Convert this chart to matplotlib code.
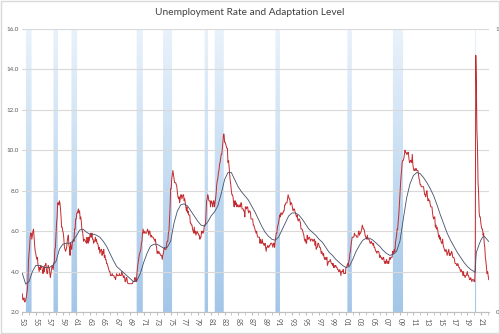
import numpy as np
import matplotlib
matplotlib.use("Agg")
import matplotlib.pyplot as plt
from matplotlib.colors import LinearSegmentedColormap
from matplotlib.patches import Rectangle

# monthly unemployment rate, Jan 1953 .. Mar 2022
unemployment = [
    2.9, 2.6, 2.6, 2.7, 2.5, 2.5, 2.6, 2.7, 2.9, 3.1, 3.5, 4.5,   # 1953
    4.9, 5.2, 5.7, 5.9, 5.9, 5.6, 5.8, 6.0, 6.1, 5.7, 5.3, 5.0,   # 1954
    4.9, 4.7, 4.6, 4.7, 4.3, 4.2, 4.0, 4.2, 4.1, 4.3, 4.2, 4.2,   # 1955
    4.0, 3.9, 4.2, 4.0, 4.3, 4.3, 4.4, 4.1, 3.9, 3.9, 4.3, 4.2,   # 1956
    4.2, 3.9, 3.7, 3.9, 4.1, 4.3, 4.2, 4.1, 4.4, 4.5, 5.1, 5.2,   # 1957
    5.8, 6.4, 6.7, 7.4, 7.4, 7.3, 7.5, 7.4, 7.1, 6.7, 6.2, 6.2,   # 1958
    6.0, 5.9, 5.6, 5.2, 5.1, 5.0, 5.1, 5.2, 5.5, 5.7, 5.8, 5.3,   # 1959
    5.2, 4.8, 5.4, 5.2, 5.1, 5.4, 5.5, 5.6, 5.5, 6.1, 6.1, 6.6,   # 1960
    6.6, 6.9, 6.9, 7.0, 7.1, 6.9, 7.0, 6.6, 6.7, 6.5, 6.1, 6.0,   # 1961
    5.8, 5.5, 5.6, 5.6, 5.5, 5.5, 5.4, 5.7, 5.6, 5.4, 5.7, 5.5,   # 1962
    5.7, 5.9, 5.7, 5.7, 5.9, 5.6, 5.6, 5.4, 5.5, 5.5, 5.7, 5.5,   # 1963
    5.6, 5.4, 5.4, 5.3, 5.1, 5.2, 4.9, 5.0, 5.1, 5.1, 4.8, 5.0,   # 1964
    4.9, 5.1, 4.7, 4.8, 4.6, 4.6, 4.4, 4.4, 4.3, 4.2, 4.1, 4.0,   # 1965
    4.0, 3.8, 3.8, 3.8, 3.9, 3.8, 3.8, 3.8, 3.7, 3.7, 3.6, 3.8,   # 1966
    3.9, 3.8, 3.8, 3.8, 3.8, 3.9, 3.8, 3.8, 3.8, 4.0, 3.9, 3.8,   # 1967
    3.7, 3.8, 3.7, 3.5, 3.5, 3.7, 3.7, 3.5, 3.4, 3.4, 3.4, 3.4,   # 1968
    3.4, 3.4, 3.4, 3.4, 3.4, 3.5, 3.5, 3.5, 3.7, 3.7, 3.5, 3.5,   # 1969
    3.9, 4.2, 4.4, 4.6, 4.8, 4.9, 5.0, 5.1, 5.4, 5.5, 5.9, 6.1,   # 1970
    5.9, 5.9, 6.0, 5.9, 5.9, 5.9, 6.0, 6.1, 6.0, 5.8, 6.0, 6.0,   # 1971
    5.8, 5.7, 5.8, 5.7, 5.7, 5.7, 5.6, 5.6, 5.5, 5.6, 5.3, 5.2,   # 1972
    4.9, 5.0, 4.9, 5.0, 4.9, 4.9, 4.8, 4.8, 4.8, 4.6, 4.8, 4.9,   # 1973
    5.1, 5.2, 5.1, 5.1, 5.1, 5.4, 5.5, 5.5, 5.9, 6.0, 6.6, 7.2,   # 1974
    8.1, 8.1, 8.6, 8.8, 9.0, 8.8, 8.6, 8.4, 8.4, 8.4, 8.3, 8.2,   # 1975
    7.9, 7.7, 7.6, 7.7, 7.4, 7.6, 7.8, 7.8, 7.6, 7.7, 7.8, 7.8,   # 1976
    7.5, 7.6, 7.4, 7.2, 7.0, 7.2, 6.9, 7.0, 6.8, 6.8, 6.8, 6.4,   # 1977
    6.4, 6.3, 6.3, 6.1, 6.0, 5.9, 6.2, 5.9, 6.0, 5.8, 5.9, 6.0,   # 1978
    5.9, 5.9, 5.8, 5.8, 5.6, 5.7, 5.7, 6.0, 5.9, 6.0, 5.9, 6.0,   # 1979
    6.3, 6.3, 6.3, 6.9, 7.5, 7.6, 7.8, 7.7, 7.5, 7.5, 7.5, 7.2,   # 1980
    7.5, 7.4, 7.4, 7.2, 7.5, 7.5, 7.2, 7.4, 7.6, 7.9, 8.3, 8.5,   # 1981
    8.6, 8.9, 9.0, 9.3, 9.4, 9.6, 9.8, 9.8, 10.1, 10.4, 10.8, 10.8,  # 1982
    10.4, 10.4, 10.3, 10.2, 10.1, 10.1, 9.4, 9.5, 9.2, 8.8, 8.5, 8.3,  # 1983
    8.0, 7.8, 7.8, 7.7, 7.4, 7.2, 7.5, 7.5, 7.3, 7.4, 7.2, 7.3,   # 1984
    7.3, 7.2, 7.2, 7.3, 7.2, 7.4, 7.4, 7.1, 7.1, 7.1, 7.0, 7.0,   # 1985
    6.7, 7.2, 7.2, 7.1, 7.2, 7.2, 7.0, 6.9, 7.0, 7.0, 6.9, 6.6,   # 1986
    6.6, 6.6, 6.6, 6.3, 6.3, 6.2, 6.1, 6.0, 5.9, 6.0, 5.8, 5.7,   # 1987
    5.7, 5.7, 5.7, 5.4, 5.6, 5.4, 5.4, 5.6, 5.4, 5.4, 5.3, 5.3,   # 1988
    5.4, 5.2, 5.0, 5.2, 5.2, 5.3, 5.2, 5.2, 5.3, 5.3, 5.4, 5.4,   # 1989
    5.4, 5.3, 5.2, 5.4, 5.4, 5.2, 5.5, 5.7, 5.9, 5.9, 6.2, 6.3,   # 1990
    6.4, 6.6, 6.8, 6.7, 6.9, 6.9, 6.8, 6.9, 6.9, 7.0, 7.0, 7.3,   # 1991
    7.3, 7.4, 7.4, 7.4, 7.6, 7.8, 7.7, 7.6, 7.6, 7.3, 7.4, 7.4,   # 1992
    7.3, 7.1, 7.0, 7.1, 7.1, 7.0, 6.9, 6.8, 6.7, 6.8, 6.6, 6.5,   # 1993
    6.6, 6.6, 6.5, 6.4, 6.1, 6.1, 6.1, 6.0, 5.9, 5.8, 5.6, 5.5,   # 1994
    5.6, 5.4, 5.4, 5.8, 5.6, 5.6, 5.7, 5.7, 5.6, 5.5, 5.6, 5.6,   # 1995
    5.6, 5.5, 5.5, 5.6, 5.6, 5.3, 5.5, 5.1, 5.2, 5.2, 5.4, 5.4,   # 1996
    5.3, 5.2, 5.2, 5.1, 4.9, 5.0, 4.9, 4.8, 4.9, 4.7, 4.6, 4.7,   # 1997
    4.6, 4.6, 4.7, 4.3, 4.4, 4.5, 4.5, 4.5, 4.6, 4.5, 4.4, 4.4,   # 1998
    4.3, 4.4, 4.2, 4.3, 4.2, 4.3, 4.3, 4.2, 4.2, 4.1, 4.1, 4.0,   # 1999
    4.0, 4.1, 4.0, 3.8, 4.0, 4.0, 4.0, 4.1, 3.9, 3.9, 3.9, 3.9,   # 2000
    4.2, 4.2, 4.3, 4.4, 4.3, 4.5, 4.6, 4.9, 5.0, 5.3, 5.5, 5.7,   # 2001
    5.7, 5.7, 5.7, 5.9, 5.8, 5.8, 5.8, 5.7, 5.7, 5.7, 5.9, 6.0,   # 2002
    5.8, 5.9, 5.9, 6.0, 6.1, 6.3, 6.2, 6.1, 6.1, 6.0, 5.8, 5.7,   # 2003
    5.7, 5.6, 5.8, 5.6, 5.6, 5.6, 5.5, 5.4, 5.4, 5.5, 5.4, 5.4,   # 2004
    5.3, 5.4, 5.2, 5.2, 5.1, 5.0, 5.0, 4.9, 5.0, 5.0, 5.0, 4.9,   # 2005
    4.7, 4.8, 4.7, 4.7, 4.6, 4.6, 4.7, 4.7, 4.5, 4.4, 4.5, 4.4,   # 2006
    4.6, 4.5, 4.4, 4.5, 4.4, 4.6, 4.7, 4.6, 4.7, 4.7, 4.7, 5.0,   # 2007
    5.0, 4.9, 5.1, 5.0, 5.4, 5.6, 5.8, 6.1, 6.1, 6.5, 6.8, 7.3,   # 2008
    7.8, 8.3, 8.7, 9.0, 9.4, 9.5, 9.5, 9.6, 9.8, 10.0, 9.9, 9.9,  # 2009
    9.8, 9.8, 9.9, 9.9, 9.6, 9.4, 9.4, 9.5, 9.5, 9.4, 9.8, 9.3,   # 2010
    9.1, 9.0, 9.0, 9.1, 9.0, 9.1, 9.0, 9.0, 9.0, 8.8, 8.6, 8.5,   # 2011
    8.3, 8.3, 8.2, 8.2, 8.2, 8.2, 8.2, 8.0, 7.8, 7.8, 7.7, 7.9,   # 2012
    8.0, 7.7, 7.5, 7.6, 7.5, 7.5, 7.3, 7.2, 7.2, 7.2, 6.9, 6.7,   # 2013
    6.6, 6.7, 6.7, 6.2, 6.3, 6.1, 6.2, 6.1, 5.9, 5.7, 5.8, 5.6,   # 2014
    5.7, 5.5, 5.4, 5.4, 5.6, 5.3, 5.2, 5.1, 5.0, 5.0, 5.1, 5.0,   # 2015
    4.8, 4.9, 5.0, 5.1, 4.8, 4.9, 4.8, 4.9, 5.0, 4.9, 4.7, 4.7,   # 2016
    4.7, 4.6, 4.4, 4.4, 4.4, 4.3, 4.3, 4.4, 4.3, 4.2, 4.2, 4.1,   # 2017
    4.0, 4.1, 4.0, 4.0, 3.8, 4.0, 3.8, 3.8, 3.7, 3.8, 3.8, 3.9,   # 2018
    4.0, 3.8, 3.8, 3.7, 3.6, 3.6, 3.7, 3.6, 3.5, 3.6, 3.6, 3.6,   # 2019
    3.5, 3.5, 4.4, 14.7, 13.2, 11.0, 10.2, 8.4, 7.9, 6.9, 6.7, 6.7,  # 2020
    6.4, 6.2, 6.1, 6.1, 5.8, 5.9, 5.4, 5.2, 4.7, 4.5, 4.2, 3.9,   # 2021
    4.0, 3.8, 3.6,                                                # 2022
]

# adaptation level
adapt_dates = [
    "1953-01", "1953-07", "1954-01", "1954-07", "1955-01", "1955-07", "1956-01", "1956-07",
    "1957-01", "1957-07", "1958-01", "1958-07", "1959-01", "1959-07", "1960-01", "1960-07",
    "1961-01", "1961-07", "1962-01", "1962-07", "1963-01", "1963-07", "1964-01", "1964-07",
    "1965-01", "1965-07", "1966-01", "1966-07", "1967-01", "1967-07", "1968-01", "1968-07",
    "1969-01", "1969-07", "1970-01", "1970-07", "1971-01", "1971-07", "1972-01", "1972-07",
    "1973-01", "1973-07", "1974-01", "1974-07", "1975-01", "1975-07", "1976-01", "1976-07",
    "1977-01", "1977-07", "1978-01", "1978-07", "1979-01", "1979-07", "1980-01", "1980-07",
    "1981-01", "1981-07", "1982-01", "1982-07", "1983-01", "1983-07", "1984-01", "1984-07",
    "1985-01", "1985-07", "1986-01", "1986-07", "1987-01", "1987-07", "1988-01", "1988-07",
    "1989-01", "1989-07", "1990-01", "1990-07", "1991-01", "1991-07", "1992-01", "1992-07",
    "1993-01", "1993-07", "1994-01", "1994-07", "1995-01", "1995-07", "1996-01", "1996-07",
    "1997-01", "1997-07", "1998-01", "1998-07", "1999-01", "1999-07", "2000-01", "2000-07",
    "2001-01", "2001-07", "2002-01", "2002-07", "2003-01", "2003-07", "2004-01", "2004-07",
    "2005-01", "2005-07", "2006-01", "2006-07", "2007-01", "2007-07", "2008-01", "2008-07",
    "2009-01", "2009-07", "2010-01", "2010-07", "2011-01", "2011-07", "2012-01", "2012-07",
    "2013-01", "2013-07", "2014-01", "2014-07", "2015-01", "2015-07", "2016-01", "2016-07",
    "2017-01", "2017-07", "2018-01", "2018-07", "2019-01", "2019-07", "2020-01", "2020-03",
    "2020-04", "2020-05", "2020-07", "2020-10", "2021-01", "2021-04", "2021-07", "2021-10",
    "2022-01", "2022-03",
]
adapt_values = [
    3.92, 3.38, 3.50, 4.00, 4.30, 4.30, 4.25, 4.20,
    4.20, 4.30, 4.50, 5.10, 5.35, 5.40, 5.40, 5.50,
    5.75, 6.05, 6.10, 5.95, 5.85, 5.85, 5.80, 5.70,
    5.50, 5.25, 4.90, 4.55, 4.25, 4.10, 3.95, 3.80,
    3.65, 3.50, 3.55, 3.90, 4.45, 4.90, 5.25, 5.35,
    5.35, 5.25, 5.15, 5.20, 5.50, 6.40, 7.00, 7.30,
    7.35, 7.25, 7.00, 6.75, 6.50, 6.30, 6.25, 6.45,
    6.75, 6.95, 7.25, 7.85, 8.55, 8.90, 8.90, 8.55,
    8.20, 7.95, 7.75, 7.55, 7.25, 6.95, 6.60, 6.25,
    5.95, 5.75, 5.60, 5.55, 5.70, 6.05, 6.40, 6.75,
    6.90, 6.90, 6.80, 6.60, 6.35, 6.10, 5.95, 5.80,
    5.60, 5.45, 5.20, 4.95, 4.80, 4.60, 4.45, 4.30,
    4.20, 4.25, 4.60, 5.00, 5.30, 5.55, 5.65, 5.65,
    5.55, 5.40, 5.25, 5.05, 4.90, 4.80, 4.85, 5.00,
    5.50, 6.60, 7.65, 8.35, 8.75, 8.90, 8.85, 8.65,
    8.40, 8.10, 7.75, 7.30, 6.80, 6.35, 5.90, 5.55,
    5.25, 4.95, 4.70, 4.45, 4.25, 4.10, 4.00, 3.95,
    4.60, 4.95, 5.10, 5.35, 5.55, 5.70, 5.74, 5.65,
    5.55, 5.49,
]

# NBER recessions (first and last month shaded)
recessions = [
    ("1953-08", "1954-05"), ("1957-09", "1958-04"), ("1960-05", "1961-02"),
    ("1970-01", "1970-11"), ("1973-12", "1975-03"), ("1980-02", "1980-07"),
    ("1981-08", "1982-11"), ("1990-08", "1991-03"), ("2001-04", "2001-11"),
    ("2008-01", "2009-06"), ("2020-03", "2020-04"),
]

start_year = 1953


def month_index(s):
    y, m = s.split("-")
    return (int(y) - start_year) * 12 + int(m) - 1


n = len(unemployment)
x = np.arange(n)
rec = np.zeros(n)
for a, b in recessions:
    rec[month_index(a):month_index(b) + 1] = 1
ax_adapt = [month_index(d) for d in adapt_dates]

fig = plt.figure(figsize=(5, 3.34), dpi=100)
plt.rcParams['font.family'] = ['Lato', 'DejaVu Sans']
ax = fig.add_axes([0.044, 0.066, 0.934, 0.847])
ax2 = ax.twinx()

# recession shading on the secondary axis, vertical gradient
poly = ax2.fill_between(x, rec, step='mid', facecolor='none', edgecolor='none')
cmap = LinearSegmentedColormap.from_list('rec', ['#e9f2fb', '#c6ddf2', '#a3c6e8'])
grad = np.linspace(0, 1, 256).reshape(-1, 1)
im = ax2.imshow(grad, extent=[-0.5, n - 0.5, 0, 1], aspect='auto', cmap=cmap,
                origin='upper', zorder=0)
im.set_clip_path(poly.get_paths()[0], transform=ax2.transData)
ax2.set_ylim(0, 1)
ax2.set_xlim(-0.5, n - 0.5)
ax2.set_yticks([0, 1])
ax2.set_yticklabels(['0', '1'])

ax.set_zorder(ax2.get_zorder() + 1)
ax.patch.set_visible(False)

ax.plot(x, unemployment, color='#c42b2f', lw=0.7, zorder=3)
ax.plot(ax_adapt, adapt_values, color='#44506a', lw=0.6, zorder=4)

ax.set_xlim(-0.5, n - 0.5)
ax.set_ylim(2, 16)
ax.set_yticks(np.arange(2, 17, 2))
ax.set_yticklabels([f"{v:.1f}" for v in np.arange(2, 17, 2)])
ax.grid(axis='y', color='#d9d9d9', lw=0.8)
ax.set_axisbelow(True)

ticks = np.arange(0, n, 24)
ax.set_xticks(ticks)
ax.set_xticklabels([f"{(start_year + t // 12) % 100:02d}" for t in ticks], rotation=-90)
ax.set_xticks(np.arange(0, n, 12), minor=True)

for a in (ax, ax2):
    for s in a.spines.values():
        s.set_visible(False)
    a.tick_params(axis='both', which='both', labelsize=4.5, colors='#595959',
                  length=0, pad=2)
ax.spines['bottom'].set_visible(True)
ax.spines['bottom'].set_color('#bfbfbf')
ax.spines['bottom'].set_linewidth(0.8)
ax.tick_params(axis='x', which='both', length=2, color='#bfbfbf', labelsize=5, pad=2)
ax2.tick_params(axis='y', labelsize=4.5, pad=5)

fig.text(0.5, 0.962, "Unemployment Rate and Adaptation Level", ha='center', va='center',
         fontsize=7.3, color='#404040')
fig.patches.append(Rectangle((0.002, 0.003), 0.995, 0.994, transform=fig.transFigure,
                             fill=False, edgecolor='#d9d9d9', lw=1))

fig.savefig("out.png", dpi=100)
